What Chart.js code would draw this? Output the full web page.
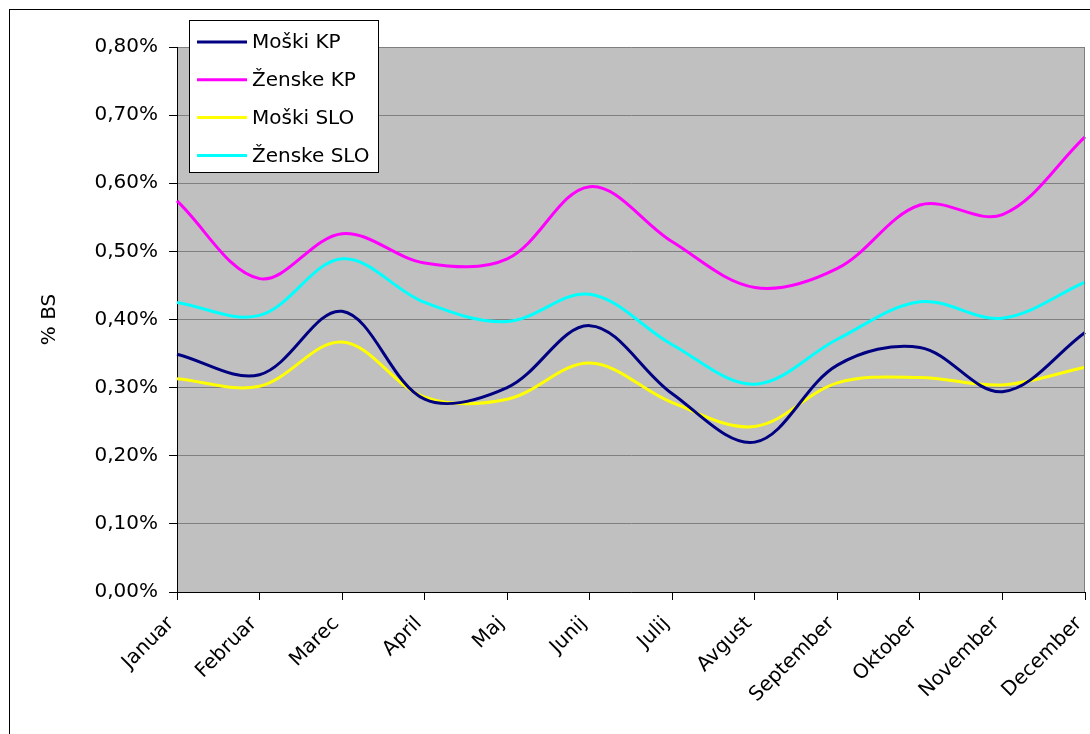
<!DOCTYPE html>
<html>
<head>
<meta charset="utf-8">
<script src="https://cdn.jsdelivr.net/npm/chart.js@4"></script>
<style>
    html, body { margin: 0; padding: 0; background: #ffffff; }
    #wrap { width: 1090px; height: 734px; position: relative; }
</style>
</head>
<body>
<div id="wrap"><canvas id="bsChart" width="1090" height="734"></canvas></div>
<script>
// months on the x axis
var months = ["Januar", "Februar", "Marec", "April", "Maj", "Junij", "Julij", "Avgust", "September", "Oktober", "November", "December"];

// values in % BS
var moskiKP = [0.349, 0.319, 0.412, 0.283, 0.300, 0.391, 0.291, 0.220, 0.333, 0.359, 0.294, 0.381];
var zenskeKP = [0.574, 0.460, 0.526, 0.483, 0.489, 0.595, 0.514, 0.447, 0.475, 0.568, 0.554, 0.668];
var moskiSLO = [0.313, 0.302, 0.367, 0.286, 0.283, 0.336, 0.278, 0.243, 0.307, 0.315, 0.304, 0.330];
var zenskeSLO = [0.425, 0.406, 0.489, 0.425, 0.397, 0.437, 0.363, 0.305, 0.371, 0.426, 0.402, 0.455];

var yTicks = { min: 0, max: 0.8, step: 0.1 };

var ctx = document.getElementById("bsChart").getContext("2d");

// grey plot background, outer frame and the boxed legend
var frame = {
    id: "frame",
    beforeDraw: function (chart) {
        var c = chart.ctx, a = chart.chartArea;
        c.save();
        c.fillStyle = "#ffffff";
        c.fillRect(0, 0, chart.width, chart.height);
        c.strokeStyle = "#000000";
        c.lineWidth = 1;
        c.strokeRect(9.5, 9.5, chart.width + 20, chart.height + 20);
        c.fillStyle = "#c0c0c0";
        c.fillRect(a.left, a.top, a.right - a.left, a.bottom - a.top);
        c.restore();
    },
    afterDatasetsDraw: function (chart) {
        var c = chart.ctx, a = chart.chartArea;
        c.save();
        c.strokeStyle = "#808080";
        c.lineWidth = 1;
        c.beginPath();
        c.moveTo(a.right - 0.5, a.top);
        c.lineTo(a.right - 0.5, a.bottom);
        c.stroke();
        c.restore();
    },
    afterDraw: function (chart) {
        var c = chart.ctx;
        var x = 189, y = 20, w = 189, h = 152;
        c.save();
        c.fillStyle = "#ffffff";
        c.fillRect(x, y, w, h);
        c.strokeStyle = "#000000";
        c.lineWidth = 1;
        c.strokeRect(x + 0.5, y + 0.5, w, h);
        c.font = "20px 'DejaVu Sans'";
        c.textBaseline = "middle";
        chart.data.datasets.forEach(function (ds, i) {
            var ly = 42 + i * 37.8;
            c.strokeStyle = ds.borderColor;
            c.lineWidth = 3;
            c.beginPath();
            c.moveTo(197, ly);
            c.lineTo(247, ly);
            c.stroke();
            c.fillStyle = "#000000";
            c.fillText(ds.label, 252, ly + 1);
        });
        c.restore();
    }
};

var bsChart = new Chart(ctx, {
    type: "line",
    data: {
        labels: months,
        datasets: [
            { label: "Moški KP", data: moskiKP, borderColor: "#000080" },
            { label: "Ženske KP", data: zenskeKP, borderColor: "#ff00ff" },
            { label: "Moški SLO", data: moskiSLO, borderColor: "#ffff00" },
            { label: "Ženske SLO", data: zenskeSLO, borderColor: "#00ffff" }
        ]
    },
    options: {
        responsive: false,
        animation: false,
        layout: { padding: { left: 0, top: 47, right: 5, bottom: 0 } },
        elements: {
            line: { borderWidth: 3, tension: 0.35, fill: false },
            point: { radius: 0 }
        },
        plugins: {
            legend: { display: false },
            tooltip: { enabled: false }
        },
        scales: {
            x: {
                offset: false,
                afterFit: function (s) { s.height = 142; s.paddingRight = 0; },
                grid: { drawOnChartArea: false, color: "#000000", tickLength: 8 },
                border: { color: "#000000", width: 1 },
                ticks: {
                    color: "#000000",
                    font: { family: "DejaVu Sans", size: 20 },
                    minRotation: 45,
                    maxRotation: 45,
                    labelOffset: -6,
                    padding: 12
                }
            },
            y: {
                min: yTicks.min,
                max: yTicks.max,
                afterFit: function (s) { s.width = 177; },
                grid: { color: "#808080", tickColor: "#000000", tickLength: 8 },
                border: { color: "#000000", width: 1 },
                ticks: {
                    stepSize: yTicks.step,
                    color: "#000000",
                    font: { family: "DejaVu Sans", size: 20 },
                    padding: 11,
                    callback: function (v) { return v.toFixed(2).replace(".", ",") + "%"; }
                },
                title: {
                    display: true,
                    text: "% BS",
                    color: "#000000",
                    font: { family: "DejaVu Sans", size: 20 },
                    padding: { top: 38, bottom: 0 }
                }
            }
        }
    },
    plugins: [frame]
});
</script>
</body>
</html>
